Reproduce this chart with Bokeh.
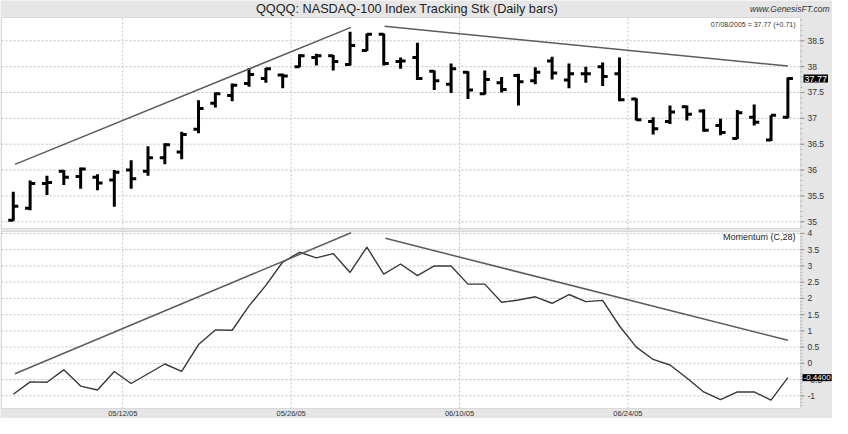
import numpy as np
from bokeh.plotting import figure
from bokeh.models import ColumnDataSource, Range1d, BoxAnnotation, Label
from bokeh.core.properties import value
from bokeh.embed import file_html
from bokeh.resources import INLINE

# ---------------- data ----------------
opens = [35.03, 35.26, 35.74, 35.975, 35.875, 35.86, 35.81, 36.0, 35.975, 36.24,
         36.35, 36.79, 37.29, 37.44, 37.675, 37.77, 37.84, 38.0, 38.175, 38.21,
         38.04, 38.31, 38.625, 38.1, 38.175, 37.91, 37.66, 37.89, 37.475, 37.69,
         37.83, 37.725, 38.11, 37.74, 37.86, 38.0, 37.86, 37.375, 36.94, 36.94,
         37.225, 37.14, 36.86, 36.61, 37.02, 36.58, 37.02]
highs = [35.58, 35.8, 35.89, 36.0, 36.05, 35.92, 36.0, 36.19, 36.46, 36.52,
         36.74, 37.35, 37.5, 37.675, 37.975, 37.975, 37.86, 38.24, 38.25, 38.225,
         38.675, 38.64, 38.64, 38.175, 38.46, 37.925, 38.06, 37.91, 37.925, 37.8,
         37.86, 37.99, 38.19, 38.06, 38.0, 38.08, 38.175, 37.39, 37.02, 37.25,
         37.25, 37.175, 36.99, 37.16, 37.27, 37.06, 37.79]
lows = [35.02, 35.225, 35.52, 35.71, 35.64, 35.61, 35.29, 35.64, 35.89, 36.11,
        36.21, 36.71, 37.21, 37.33, 37.61, 37.69, 37.58, 37.99, 38.02, 37.925,
        38.02, 38.3, 38.02, 37.96, 37.74, 37.55, 37.49, 37.375, 37.46, 37.5,
        37.25, 37.66, 37.75, 37.58, 37.69, 37.625, 37.33, 36.96, 36.69, 36.89,
        36.96, 36.74, 36.675, 36.6, 36.86, 36.56, 37.0]
closes = [35.3, 35.74, 35.76, 35.86, 36.02, 35.75, 35.96, 35.83, 36.24, 36.49,
          36.69, 37.19, 37.475, 37.64, 37.85, 37.96, 37.82, 38.21, 38.21, 38.1,
          38.41, 38.625, 38.06, 38.11, 37.77, 37.725, 37.96, 37.55, 37.75, 37.56,
          37.71, 37.89, 37.875, 37.86, 37.86, 37.81, 37.36, 36.975, 36.8, 37.125,
          37.08, 36.77, 36.725, 37.11, 36.925, 37.06, 37.77]
momentum = [-0.95, -0.57, -0.58, -0.2, -0.7, -0.82, -0.25, -0.62, -0.32, -0.02,
            -0.25, 0.58, 1.03, 1.02, 1.77, 2.4, 3.12, 3.42, 3.25, 3.38,
            2.8, 3.58, 2.75, 3.06, 2.7, 3.0, 3.0, 2.44, 2.44, 1.88,
            1.95, 2.05, 1.85, 2.12, 1.9, 1.94, 1.15, 0.5, 0.12, -0.05,
            -0.45, -0.88, -1.12, -0.88, -0.88, -1.13, -0.44]

date_tick_pos = [6.5, 16.5, 26.5, 36.5]
date_tick_labels = ["05/12/05", "05/26/05", "06/10/05", "06/24/05"]
price_ticks = [35, 35.5, 36, 36.5, 37, 37.5, 38, 38.5]
mom_ticks = [-1, -0.5, 0, 0.5, 1, 1.5, 2, 2.5, 3, 3.5, 4]

price_trend_up_x = [0.1, 20.06]
price_trend_up_y = [36.11, 38.76]
price_trend_dn_x = [22.05, 46.0]
price_trend_dn_y = [38.78, 38.01]
mom_trend_up_x = [0.1, 20.06]
mom_trend_up_y = [-0.32, 4.02]
mom_trend_dn_x = [22.1, 46.0]
mom_trend_dn_y = [3.85, 0.71]

title_text = "QQQQ: NASDAQ-100 Index Tracking Stk (Daily bars)"
site_text = "www.GenesisFT.com"
last_text = "07/08/2005 = 37.77 (+0.71)"
last_price_text = "37.77"
mom_name = "Momentum (C,28)"
last_mom_text = "-0.4400"

# ---------------- layout / style ----------------
FONT = "Liberation Sans"
BORDER = "#e6e6e6"
GRID = "#c2c2c2"
TXT = "#333333"

W, H = 832, 418
PX_L, PX_R = 1, 800
XR0, XR1 = -0.7, 46.75
kx = (PX_R - PX_L) / (XR1 - XR0)
x_start = XR0 - PX_L / kx
x_end = XR1 + (W - PX_R) / kx

BAND, TOP_H, GAP, BOT_H, XB = 17, 211, 3, 177, 10
P0, P1 = 34.87, 38.95
M0, M1 = -1.39, 4.06
ky1 = TOP_H / (P1 - P0)
y1_start = P0 - (H - BAND - TOP_H) / ky1
y1_end = P1 + BAND / ky1
ky2 = BOT_H / (M1 - M0)
y2_start = M0 - XB / ky2
y2_end = M1 + (H - XB - BOT_H) / ky2

p = figure(width=W, height=H, x_range=Range1d(x_start, x_end),
           y_range=Range1d(y1_start, y1_end), x_axis_location=None,
           y_axis_location=None, toolbar_location=None, output_backend="svg",
           min_border=0)
p.extra_y_ranges = {"mom": Range1d(y2_start, y2_end)}
p.outline_line_color = None
p.background_fill_color = BORDER
p.border_fill_color = BORDER
p.grid.visible = False

# panels
p.add_layout(BoxAnnotation(left=XR0, right=XR1, bottom=P0, top=P1,
                           fill_color="white", fill_alpha=1,
                           line_color="#a0a0a0", line_width=1, level="underlay"))
p.add_layout(BoxAnnotation(left=XR0, right=XR1, bottom=M0, top=M1,
                           y_range_name="mom", fill_color="white", fill_alpha=1,
                           line_color="#a0a0a0", line_width=1, level="underlay"))

# grid lines
p.segment(x0=XR0, y0=price_ticks, x1=XR1, y1=price_ticks, line_color=GRID,
          line_dash="2 2", line_width=1)
p.segment(x0=date_tick_pos, y0=P0, x1=date_tick_pos, y1=P1, line_color=GRID,
          line_dash="2 2", line_width=1)
p.segment(x0=XR0, y0=mom_ticks, x1=XR1, y1=mom_ticks, line_color=GRID,
          line_dash="2 2", line_width=1, y_range_name="mom")
p.segment(x0=date_tick_pos, y0=M0, x1=date_tick_pos, y1=M1, line_color=GRID,
          line_dash="2 2", line_width=1, y_range_name="mom")

# right axes (ticks + labels)
price_minor = list(np.round(np.arange(34.9, 38.95, 0.1), 2))
mom_minor = list(np.round(np.arange(-1.3, 4.05, 0.1), 2))
for ticks, minor, rng in ((price_ticks, price_minor, "default"),
                          (mom_ticks, mom_minor, "mom")):
    p.segment(x0=XR1, y0=minor, x1=XR1 + 2 / kx, y1=minor,
              line_color="#b0b0b0", line_width=1, y_range_name=rng)
    p.segment(x0=XR1, y0=ticks, x1=XR1 + 4 / kx, y1=ticks,
              line_color="#909090", line_width=1, y_range_name=rng)
    p.text(x=XR1 + 7 / kx, y=ticks, text=[f"{t:g}" for t in ticks],
           text_font=value(FONT), text_font_size="8.5px", text_color=TXT,
           text_align="left", text_baseline="middle", y_range_name=rng)

# x-axis labels
p.text(x=date_tick_pos, y=M0 - 5 / ky2, text=date_tick_labels,
       text_font=value(FONT), text_font_size="7.5px", text_color=TXT,
       text_align="center", text_baseline="middle", y_range_name="mom")

# OHLC bars
n = len(closes)
xs = np.arange(n)
tick = 0.3
src = ColumnDataSource(dict(x=xs, o=opens, h=highs, l=lows, c=closes,
                            xl=xs - tick, xr=xs + tick, m=momentum))
p.segment(x0="x", y0="l", x1="x", y1="h", source=src, line_color="black",
          line_width=3)
p.segment(x0="xl", y0="o", x1="x", y1="o", source=src, line_color="black",
          line_width=3)
p.segment(x0="x", y0="c", x1="xr", y1="c", source=src, line_color="black",
          line_width=3)
p.line(price_trend_up_x, price_trend_up_y, line_color="#5c5c5c", line_width=1.5)
p.line(price_trend_dn_x, price_trend_dn_y, line_color="#5c5c5c", line_width=1.5)

# momentum
p.line("x", "m", source=src, line_color="#383838", line_width=1.4,
       y_range_name="mom")
p.line(mom_trend_up_x, mom_trend_up_y, line_color="#5c5c5c", line_width=1.5,
       y_range_name="mom")
p.line(mom_trend_dn_x, mom_trend_dn_y, line_color="#5c5c5c", line_width=1.5,
       y_range_name="mom")

# texts
p.add_layout(Label(x=(XR0 + XR1) / 2 + 6 / kx, y=P1 + (BAND / 2) / ky1,
                   text=title_text, text_align="center", text_baseline="middle",
                   text_font=FONT, text_font_size="12.7px", text_color="#222222"))
p.add_layout(Label(x=x_end - 3 / kx, y=P1 + (BAND / 2) / ky1, text=site_text,
                   text_align="right", text_baseline="middle", text_font=FONT,
                   text_font_size="8.5px", text_font_style="italic",
                   text_color=TXT))
p.add_layout(Label(x=XR1 - 5 / kx, y=P1 - 7 / ky1, text=last_text,
                   text_align="right", text_baseline="middle", text_font=FONT,
                   text_font_size="7px", text_color=TXT))
p.add_layout(Label(x=XR1 + 3 / kx, y=closes[-1], text=last_price_text,
                   text_align="left", text_baseline="middle", text_font=FONT,
                   text_font_size="9px", text_color="white",
                   background_fill_color="black", padding=1))
p.add_layout(Label(x=XR1 - 5 / kx, y=M1 - 5 / ky2, y_range_name="mom",
                   text=mom_name, text_align="right", text_baseline="middle",
                   text_font=FONT, text_font_size="9px", text_color="#222222"))
p.add_layout(Label(x=XR1 + 2 / kx, y=momentum[-1], y_range_name="mom",
                   text=last_mom_text, text_align="left", text_baseline="middle",
                   text_font=FONT, text_font_size="8px", text_color="white",
                   background_fill_color="black", padding=1))

open("out.html", "w").write(file_html(p, INLINE))
